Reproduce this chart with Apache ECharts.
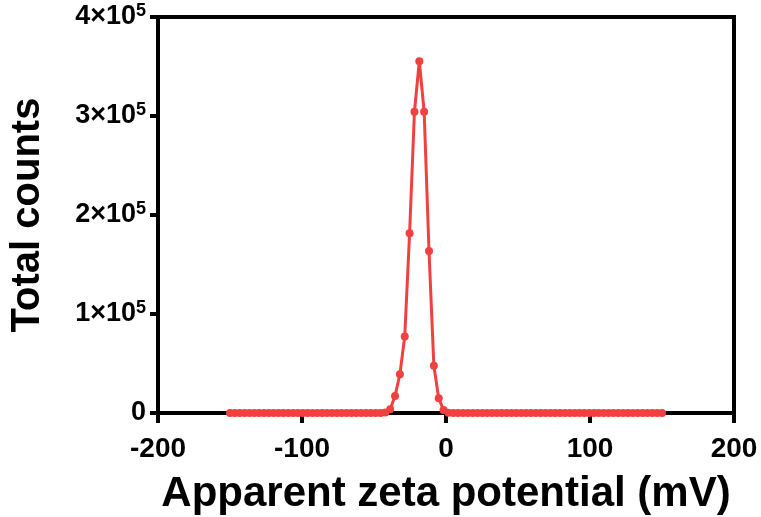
<!DOCTYPE html>
<html>
<head>
<meta charset="utf-8">
<script src="https://cdn.jsdelivr.net/npm/echarts@6/dist/echarts.min.js"></script>
<style>
  html, body { margin: 0; padding: 0; background: #fff; }
  #chart { width: 761px; height: 517px; }
</style>
</head>
<body>
<div id="chart"></div>
<script>
// Apparent zeta potential (mV) of each channel
const zetaMv = [
  -150.00, -146.63, -143.26, -139.89, -136.52, -133.15, -129.78, -126.40, -123.03, -119.66,
  -116.29, -112.92, -109.55, -106.18, -102.81, -99.44, -96.07, -92.70, -89.33, -85.96,
  -82.58, -79.21, -75.84, -72.47, -69.10, -65.73, -62.36, -58.99, -55.62, -52.25,
  -48.88, -45.51, -42.13, -38.76, -35.39, -32.02, -28.65, -25.28, -21.91, -18.54,
  -15.17, -11.80, -8.43, -5.06, -1.69, 1.69, 5.06, 8.43, 11.80, 15.17,
  18.54, 21.91, 25.28, 28.65, 32.02, 35.39, 38.76, 42.13, 45.51, 48.88,
  52.25, 55.62, 58.99, 62.36, 65.73, 69.10, 72.47, 75.84, 79.21, 82.58,
  85.96, 89.33, 92.70, 96.07, 99.44, 102.81, 106.18, 109.55, 112.92, 116.29,
  119.66, 123.03, 126.40, 129.78, 133.15, 136.52, 139.89, 143.26, 146.63, 150.00
];

// Total counts recorded in each channel
const totalCounts = [
  0, 0, 0, 0, 0, 0, 0, 0, 0, 0,
  0, 0, 0, 0, 0, 0, 0, 0, 0, 0,
  0, 0, 0, 0, 0, 0, 0, 0, 0, 0,
  0, 0, 400, 3700, 17200, 39100, 77300, 181500, 304300, 355300,
  304300, 163600, 47800, 14800, 3000, 300, 0, 0, 0, 0,
  0, 0, 0, 0, 0, 0, 0, 0, 0, 0,
  0, 0, 0, 0, 0, 0, 0, 0, 0, 0,
  0, 0, 0, 0, 0, 0, 0, 0, 0, 0,
  0, 0, 0, 0, 0, 0, 0, 0, 0, 0
];

// Tick labels of the count axis: mantissa and power of ten
const countTicks = [0, 100000, 200000, 300000, 400000];
const countMantissa = ['0', '1', '2', '3', '4'];
const countExponent = ['', '5', '5', '5', '5'];

const FONT = '"Liberation Sans", Arial, sans-serif';

const chart = echarts.init(document.getElementById('chart'), null, { renderer: 'canvas' });

chart.setOption({
  animation: false,
  backgroundColor: '#ffffff',
  grid: {
    left: 158, right: 27, top: 17, bottom: 104,
    containLabel: false,
    outerBoundsMode: 'none',
    show: true, borderColor: '#000', borderWidth: 4, backgroundColor: 'transparent'
  },
  xAxis: {
    type: 'value',
    min: -200, max: 200, interval: 100,
    name: 'Apparent zeta potential (mV)',
    nameLocation: 'middle',
    nameGap: 60,
    nameTextStyle: { fontFamily: FONT, fontWeight: 'bold', fontSize: 42, color: '#000' },
    axisLine: { show: true, onZero: false, lineStyle: { color: '#000', width: 4 } },
    axisTick: { show: true, length: 10, lineStyle: { color: '#000', width: 4 } },
    axisLabel: { fontFamily: FONT, fontWeight: 'bold', fontSize: 28, color: '#000', margin: 22 },
    splitLine: { show: false }
  },
  yAxis: {
    type: 'value',
    min: 0, max: 400000, interval: 100000,
    name: 'Total counts',
    nameLocation: 'middle',
    nameGap: 110,
    nameTextStyle: { fontFamily: FONT, fontWeight: 'bold', fontSize: 40, color: '#000' },
    axisLine: { show: true, onZero: false, lineStyle: { color: '#000', width: 4 } },
    axisTick: { show: true, length: 8, lineStyle: { color: '#000', width: 4 } },
    axisLabel: {
      margin: 12,
      formatter: function (v) {
        const i = countTicks.indexOf(v);
        if (i < 0) return '';
        if (!countExponent[i]) return '{m|' + countMantissa[i] + '}';
        return '{m|' + countMantissa[i] + '×10}{e|' + countExponent[i] + '}';
      },
      rich: {
        m: { fontFamily: FONT, fontWeight: 'bold', fontSize: 27, color: '#000', lineHeight: 30 },
        e: { fontFamily: FONT, fontWeight: 'bold', fontSize: 18, color: '#000', lineHeight: 18, verticalAlign: 'top' }
      }
    },
    splitLine: { show: false }
  },
  series: [{
    type: 'line',
    data: zetaMv.map(function (x, i) { return [x, totalCounts[i]]; }),
    symbol: 'circle',
    symbolSize: 8,
    showSymbol: true,
    lineStyle: { color: '#F04040', width: 3 },
    itemStyle: { color: '#F04040' },
    z: 5
  }]
});
</script>
</body>
</html>
